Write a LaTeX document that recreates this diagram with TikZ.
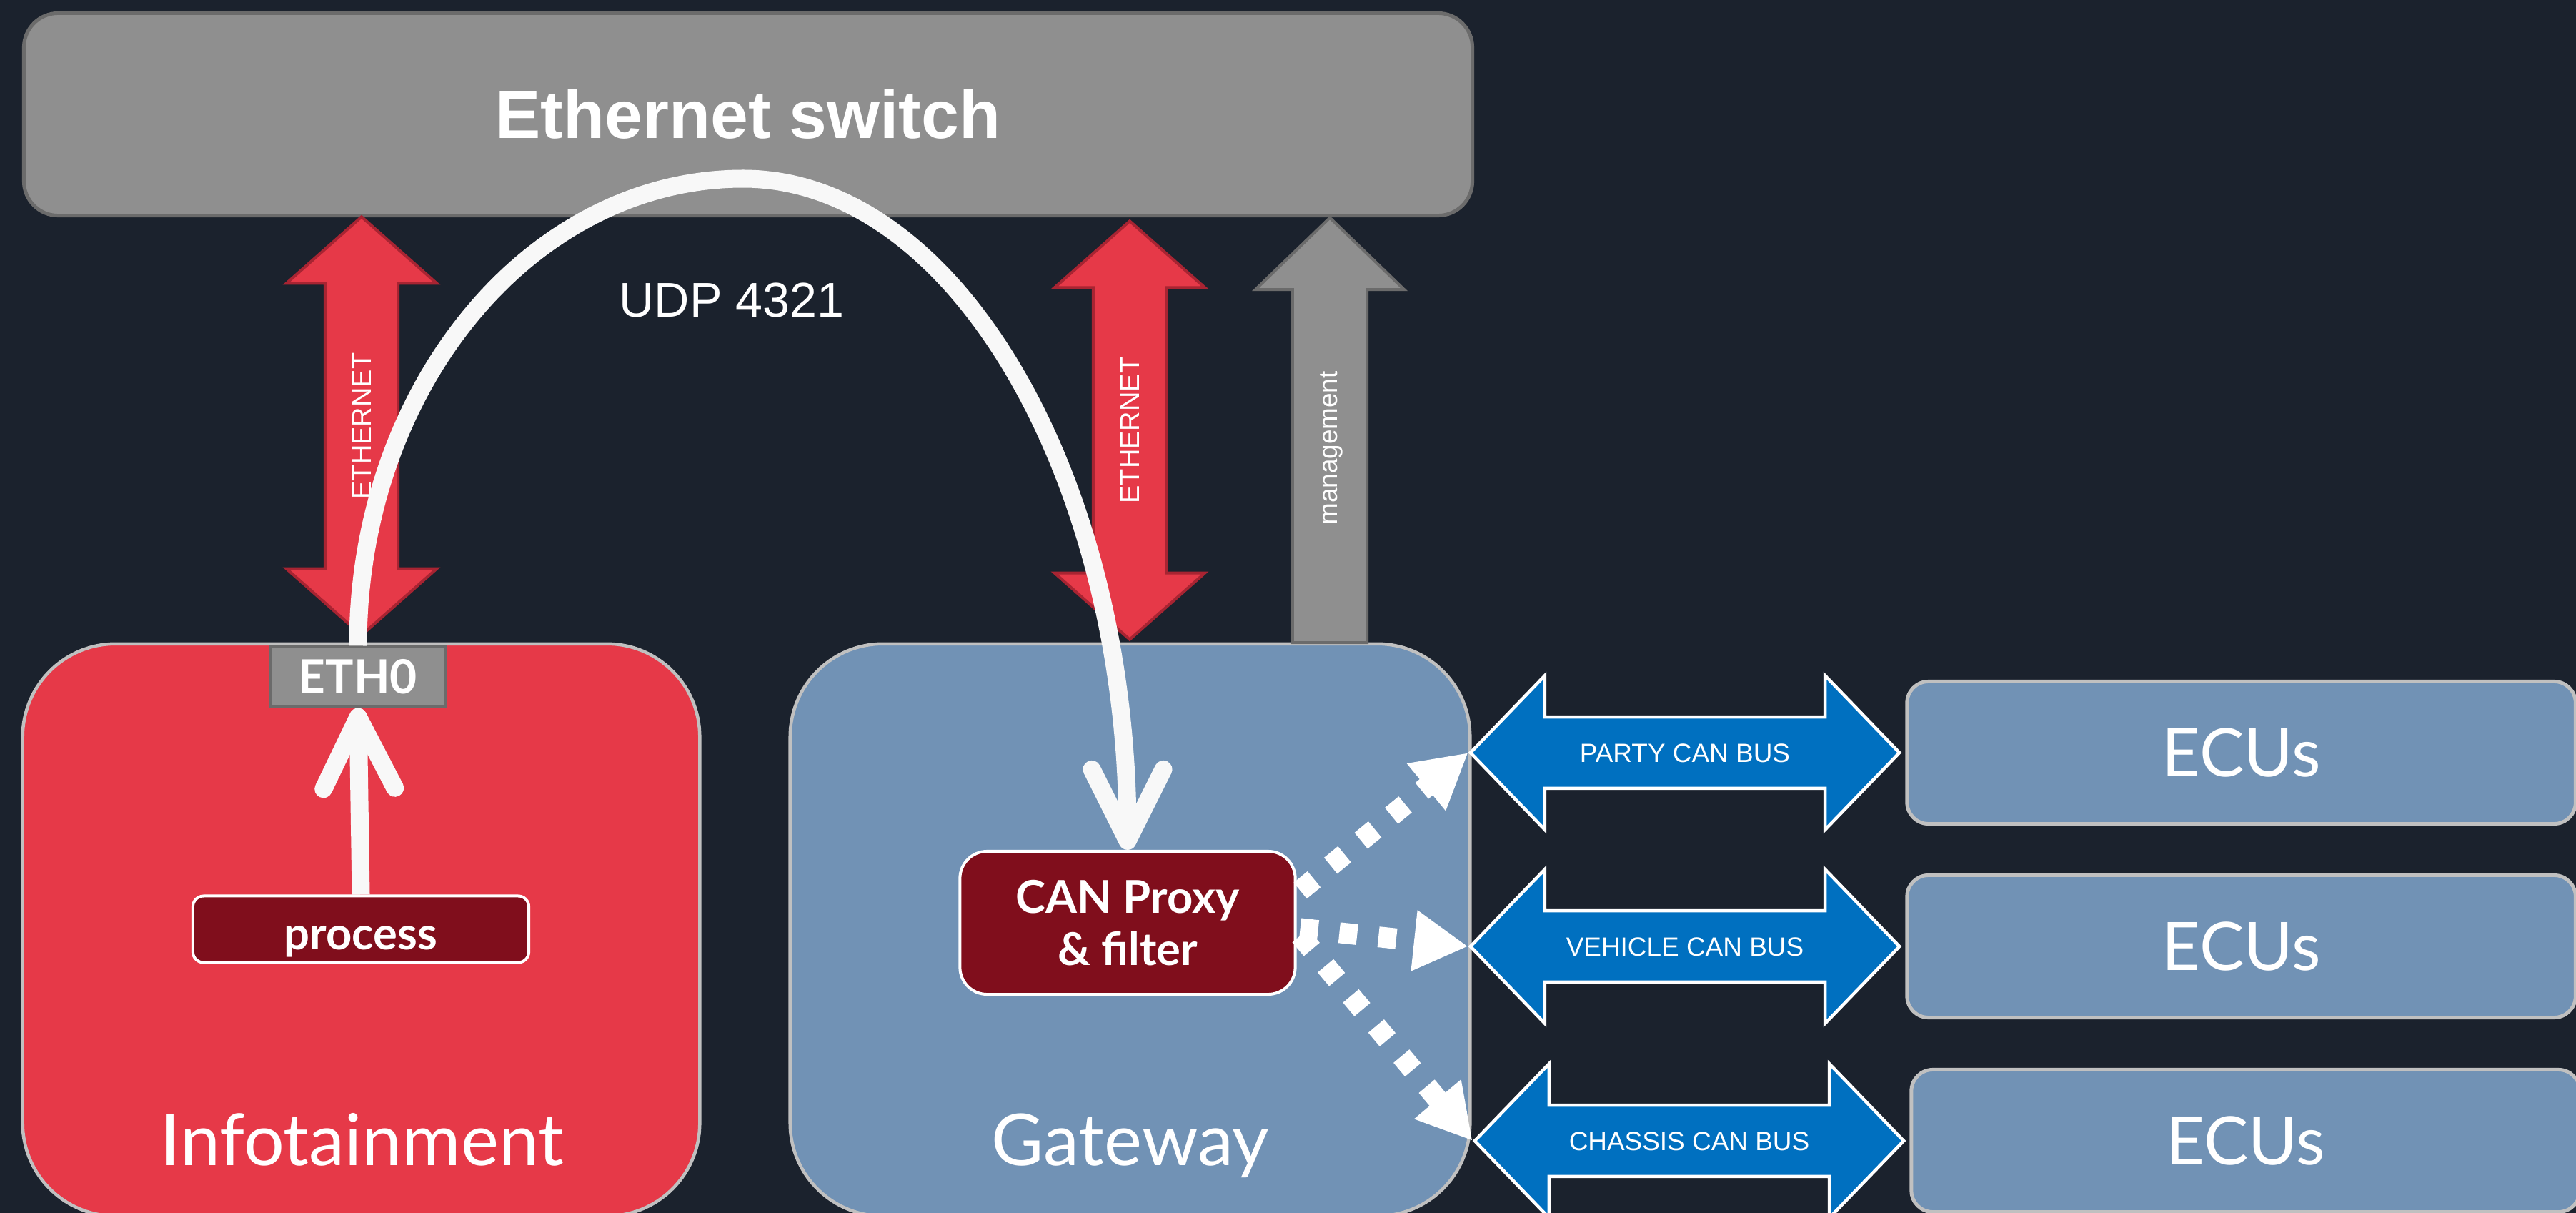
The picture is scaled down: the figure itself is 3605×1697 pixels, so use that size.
\documentclass[tikz,border=0pt]{standalone}
\usepackage{fontspec}
\setmainfont{Lato}
\newfontfamily\arialfont{Liberation Sans}
\usepackage{tikz}
\usetikzlibrary{shapes.arrows, arrows.meta, positioning, calc}
\definecolor{bgdark}{RGB}{27,34,45}
\definecolor{swgray}{RGB}{143,143,143}
\definecolor{swedge}{RGB}{107,107,107}
\definecolor{ethred}{RGB}{230,57,72}
\definecolor{ethedge}{RGB}{168,36,50}
\definecolor{gwblue}{RGB}{113,146,181}
\definecolor{boxedge}{RGB}{192,192,192}
\definecolor{procred}{RGB}{128,14,28}
\definecolor{busblue}{RGB}{0,112,192}
\definecolor{flowwhite}{RGB}{248,248,248}

\begin{document}
\begin{tikzpicture}[x=0.01cm, y=-0.01cm,
        swbox/.style={rectangle, rounded corners=0.48cm, draw=swedge, line width=0.5mm, fill=swgray, minimum width=20.26cm, minimum height=2.83cm, text=white, font=\arialfont\bfseries\fontsize{27}{32}\selectfont},
        hostbox/.style={rectangle, rounded corners=1.3cm, draw=boxedge, line width=0.45mm, minimum height=8cm},
        hosttitle/.style={anchor=base, text=white, font=\fontsize{28.5}{34}\selectfont},
        ethport/.style={rectangle, draw=swedge, line width=0.4mm, fill=swgray, minimum width=2.43cm, minimum height=0.83cm, inner sep=0, text=white, font=\bfseries\fontsize{18.7}{22}\selectfont},
        procbox/.style={rectangle, rounded corners=0.15cm, draw=white, line width=0.4mm, fill=procred, inner sep=0, align=center, text=white, font=\bfseries\fontsize{18}{20.8}\selectfont},
        ethlink/.style={double arrow, rotate=90, draw=ethedge, line width=0.4mm, fill=ethred, inner sep=0, text height=0.625cm, text depth=0.355cm, minimum height=5.85cm, minimum width=2.06cm, double arrow head extend=0.54cm, double arrow tip angle=97, text=white, font=\arialfont\fontsize{10.8}{13}\selectfont},
        mgmtlink/.style={single arrow, rotate=90, draw=swedge, line width=0.4mm, fill=swgray, inner sep=0, text height=0.6cm, text depth=0.4cm, minimum height=5.94cm, minimum width=2.05cm, single arrow head extend=0.52cm, single arrow tip angle=92, text=white, font=\arialfont\fontsize{10.5}{13}\selectfont},
        canbus/.style={double arrow, draw=white, line width=0.45mm, fill=busblue, inner sep=0, text height=0.61cm, text depth=0.34cm, minimum height=6cm, minimum width=2.11cm, double arrow head extend=0.58cm, double arrow tip angle=92, text=white, font=\arialfont\fontsize{10.5}{13}\selectfont},
        ecubox/.style={rectangle, rounded corners=0.3cm, draw=boxedge, line width=0.5mm, fill=gwblue, minimum width=9.35cm, minimum height=1.99cm, text=white, font=\fontsize{26.6}{32}\selectfont},
        flow/.style={flowwhite, line width=2.5mm, -{Straight Barb[length=10mm, width=10mm, round]}},
        canflow/.style={white, line width=2.9mm, dash pattern=on 2.5mm off 3mm, -{Triangle[length=7.6mm, width=8mm]}}
    ]
        \useasboundingbox (0,0) rectangle (3605,1697);
        \clip (0,0) rectangle (3605,1697);
        \fill[bgdark] (0,0) rectangle (3605,1697);

        % Switch
        \node[swbox] (switch) at (1047,160) {Ethernet switch};

        % Hosts
        \node[hostbox, fill=ethred, minimum width=9.47cm] (infot) at (505.5,1301) {};
        \node[hostbox, fill=gwblue, minimum width=9.51cm] (gateway) at (1581.5,1301) {};
        \node[hosttitle] (infotname) at (507,1630) {Infotainment};
        \node[hosttitle] (gwname) at (1582,1630) {Gateway};

        % Links to the switch
        \node[ethlink] (ethleft) at (506,596) {ETHERNET};
        \node[ethlink] (ethright) at (1581,602) {ETHERNET};
        \node[mgmtlink, anchor=tail] (mgmt) at (1861,901) {management};

        % Inner blocks
        \node[ethport] (eth0) at (501,947) {ETH0};
        \node[procbox, minimum width=4.7cm, minimum height=0.93cm, text height=0.6cm, text depth=0.04cm] (proc) at (505,1300) {process};
        \node[procbox, rounded corners=0.38cm, minimum width=4.69cm, minimum height=2cm] (proxy) at (1578,1291) {CAN Proxy\\\& filter};

        % CAN buses
        \node[canbus] (party) at (2358,1053) {PARTY CAN BUS};
        \node[canbus] (vehicle) at (2358,1324) {VEHICLE CAN BUS};
        \node[canbus] (chassis) at (2364,1596) {CHASSIS CAN BUS};

        \node[ecubox, right=0.05cm of party] (ecuparty) {ECUs};
        \node[ecubox, right=0.05cm of vehicle] (ecuvehicle) {ECUs};
        \node[ecubox, right=0.05cm of chassis] (ecuchassis) {ECUs};

        % Proxy to buses
        \draw[canflow] ($(proxy.east)+(5,-45)$) -- (party.west);
        \draw[canflow] ($(proxy.east)+(5,8)$) -- (vehicle.west);
        \draw[canflow] ($(proxy.east)+(5,18)$) -- (chassis.west);

        % UDP path
        \coordinate (apex) at (1040,250);
        \draw[flow] (proc.north) -- (eth0.south);
        \draw[flow] (eth0.north) .. controls +(0,-362) and +(-297,0) .. (apex)
            .. controls +(297,0) and +(0,-520) .. (proxy.north);
        \node[text=white, font=\arialfont\fontsize{19.4}{23}\selectfont] (udp) at (1024,420) {UDP 4321};

    \end{tikzpicture}
\end{document}
